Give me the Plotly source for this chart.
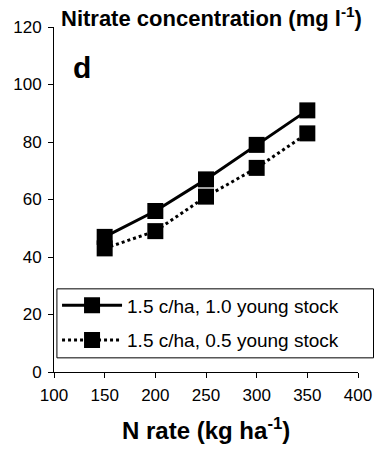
import plotly.graph_objects as go

n_rate = [150, 200, 250, 300, 350]
solid_vals = [47, 56, 67, 79, 91]
dotted_vals = [43, 49, 61, 71, 83]
names = ["1.5 c/ha, 1.0 young stock", "1.5 c/ha, 0.5 young stock"]
x_ticks = [100, 150, 200, 250, 300, 350, 400]
y_ticks = [0, 20, 40, 60, 80, 100, 120]

font = "Liberation Sans, Arial, sans-serif"

fig = go.Figure()
fig.add_trace(go.Scatter(
    x=n_rate, y=solid_vals, name=names[0], mode="lines+markers",
    line=dict(color="black", width=3, dash="solid"),
    marker=dict(symbol="square", size=16, color="black"),
    legendgroup="a",
))
fig.add_trace(go.Scatter(
    x=n_rate, y=dotted_vals, name=names[1], mode="lines+markers",
    line=dict(color="black", width=3, dash="dot"),
    marker=dict(symbol="square", size=16, color="black"),
    legendgroup="b",
))

fig.update_layout(
    width=384, height=454,
    margin=dict(l=54, r=18, t=27, b=82),
    paper_bgcolor="white", plot_bgcolor="white",
    font=dict(family=font, color="black", size=17),
    showlegend=True,
    legend=dict(
        x=0.01, y=0.248, xanchor="left", yanchor="top",
        borderwidth=0, bgcolor="rgba(0,0,0,0)",
        font=dict(size=19, family=font),
        traceorder="grouped", tracegroupgap=7,
        itemwidth=60,
    ),
    shapes=[
        dict(type="rect", xref="paper", yref="paper",
             x0=0.0096, x1=1.051, y0=0.041, y1=0.241,
             line=dict(color="black", width=1), fillcolor="white", layer="above"),
    ],
    xaxis=dict(
        range=[100, 400], tickvals=x_ticks, showgrid=False, zeroline=False,
        showline=True, linecolor="black", linewidth=1,
        ticks="outside", ticklen=5, tickcolor="black",
        tickfont=dict(size=17), ticklabelstandoff=3,
    ),
    yaxis=dict(
        range=[0, 120], tickvals=y_ticks, showgrid=False, zeroline=False,
        showline=True, linecolor="black", linewidth=1,
        ticks="outside", ticklen=5, tickcolor="black",
        tickfont=dict(size=17), ticklabelstandoff=3,
    ),
    annotations=[
        dict(text="<b>Nitrate concentration (mg l<sup>-1</sup>)</b>", xref="paper", yref="paper",
             x=0.015, y=1.0, xanchor="left", yanchor="bottom", yshift=-6, showarrow=False,
             font=dict(size=22)),
        dict(text="<b>d</b>", xref="paper", yref="paper", x=0.055, y=0.882,
             xanchor="left", yanchor="middle", showarrow=False, font=dict(size=30)),
        dict(text="<b>N rate (kg ha<sup>-1</sup>)</b>", xref="paper", yref="paper",
             x=0.5, y=0, xanchor="center", yanchor="top", yshift=-40, showarrow=False,
             font=dict(size=24)),
    ],
)

fig.write_html("out.html")
